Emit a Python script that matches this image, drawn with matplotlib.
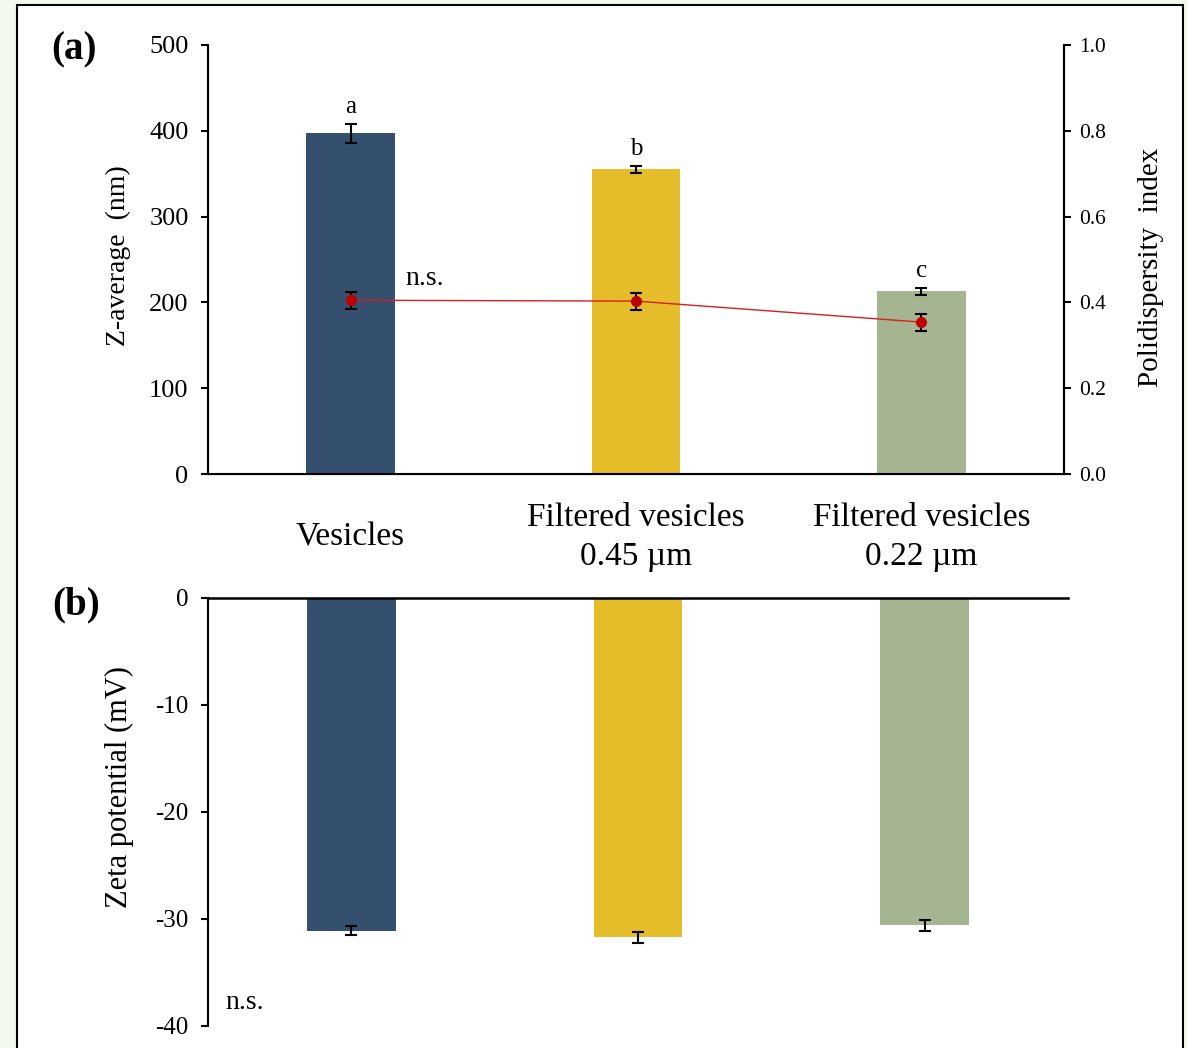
import matplotlib.pyplot as plt
from matplotlib.patches import Rectangle

plt.rcParams['font.family'] = ['Liberation Serif', 'DejaVu Serif']
plt.rcParams['axes.unicode_minus'] = False

categories = ["Vesicles", "Filtered vesicles\n0.45 \u00b5m", "Filtered vesicles\n0.22 \u00b5m"]
z_avg = [397, 355, 213]
z_err = [11, 4, 4]
letters = ["a", "b", "c"]
pdi = [0.405, 0.403, 0.354]
pdi_err = [0.02, 0.02, 0.02]
zeta = [-31.1, -31.7, -30.6]
zeta_err = [0.4, 0.5, 0.5]

colors = ["#354f6e", "#e5bc2a", "#a6b591"]
x = list(range(len(categories)))

fig = plt.figure(figsize=(11.88, 10.48), dpi=100, facecolor="#f3f9ec")
fig.patches.append(Rectangle((17 / 1188, -0.01), (1183 - 17) / 1188, 1.01 - 5 / 1048,
                             transform=fig.transFigure, facecolor="white",
                             edgecolor="black", linewidth=1.5, zorder=-5))

# ---- panel (a) ----
ax1 = fig.add_axes([0.1751, 0.5477, 0.7205, 0.4094])
ax1.bar(x, z_avg, width=0.31, color=colors, zorder=2)
ax1.errorbar(x, z_avg, yerr=z_err, fmt="none", ecolor="black", elinewidth=1.5,
             capsize=4, capthick=1.5, zorder=3)
for xi, v, e, l in zip(x, z_avg, z_err, letters):
    ax1.annotate(l, (xi, v + e), xytext=(0, 4), textcoords="offset points",
                 ha="center", va="bottom", fontsize=18)
ax1.set_xlim(-0.5, 2.5)
ax1.set_ylim(0, 500)
ax1.set_yticks([0, 100, 200, 300, 400, 500])
ax1.set_ylabel("Z-average  (nm)", fontsize=20)
ax1.yaxis.set_label_coords(-0.09, 0.51)
ax1.set_xticks([])
for xi, c in zip(x, categories):
    ax1.text(xi, -0.147, c, transform=ax1.get_xaxis_transform(), ha="center",
             va="center", fontsize=24, linespacing=1.36)
ax1.spines["top"].set_visible(False)
for s in ["left", "bottom", "right"]:
    ax1.spines[s].set_linewidth(1.5)
ax1.tick_params(axis="y", direction="out", length=5, width=1.5, labelsize=19, pad=9)
ax1.text(-0.13, 0.988, "(a)", transform=ax1.transAxes, fontsize=28,
         fontweight="bold", ha="right", va="center")

ax2 = ax1.twinx()
ax2.errorbar(x, pdi, yerr=pdi_err, color="#d42020", linewidth=1,
             marker="o", markersize=7, markerfacecolor="#c00000",
             markeredgecolor="#c00000", ecolor="black", elinewidth=1.5,
             capsize=4, capthick=1.5, zorder=4)
ax2.set_ylim(0, 1.0)
ax2.set_yticks([0.0, 0.2, 0.4, 0.6, 0.8, 1.0])
ax2.set_yticklabels(["0.0", "0.2", "0.4", "0.6", "0.8", "1.0"])
ax2.set_ylabel("Polidispersity  index", fontsize=21)
ax2.yaxis.set_label_coords(1.0864, 0.4825)
ax2.spines["top"].set_visible(False)
ax2.spines["right"].set_linewidth(1.5)
ax2.tick_params(axis="y", direction="out", length=5, width=1.5, labelsize=15.5, pad=6)
ax2.text(0.26, 228 / 500, "n.s.", transform=ax1.get_xaxis_transform(),
         fontsize=20, ha="center", va="center")

# ---- panel (b) ----
ax3 = fig.add_axes([0.1751, 0.0210, 0.7239, 0.4084])
ax3.bar(x, zeta, width=0.31, color=colors, zorder=2)
ax3.errorbar(x, zeta, yerr=zeta_err, fmt="none", ecolor="black", elinewidth=1.5,
             capsize=4, capthick=1.5, zorder=3)
ax3.set_xlim(-0.5, 2.5)
ax3.set_ylim(-40, 0)
ax3.set_yticks([-40, -30, -20, -10, 0])
ax3.set_xticks([])
ax3.set_ylabel("Zeta potential (mV)", fontsize=22)
ax3.yaxis.set_label_coords(-0.086, 0.558)
ax3.spines["right"].set_visible(False)
ax3.spines["bottom"].set_visible(False)
ax3.spines["left"].set_linewidth(1.5)
ax3.spines["top"].set_linewidth(1.8)
ax3.tick_params(axis="y", direction="out", length=5, width=1.5, labelsize=18, pad=9)
ax3.text(0.043, 0.055, "n.s.", transform=ax3.transAxes, fontsize=20,
         ha="center", va="center")
ax3.text(-0.1256, 0.984, "(b)", transform=ax3.transAxes, fontsize=28,
         fontweight="bold", ha="right", va="center")

fig.savefig("out.png", dpi=100, facecolor=fig.get_facecolor())
